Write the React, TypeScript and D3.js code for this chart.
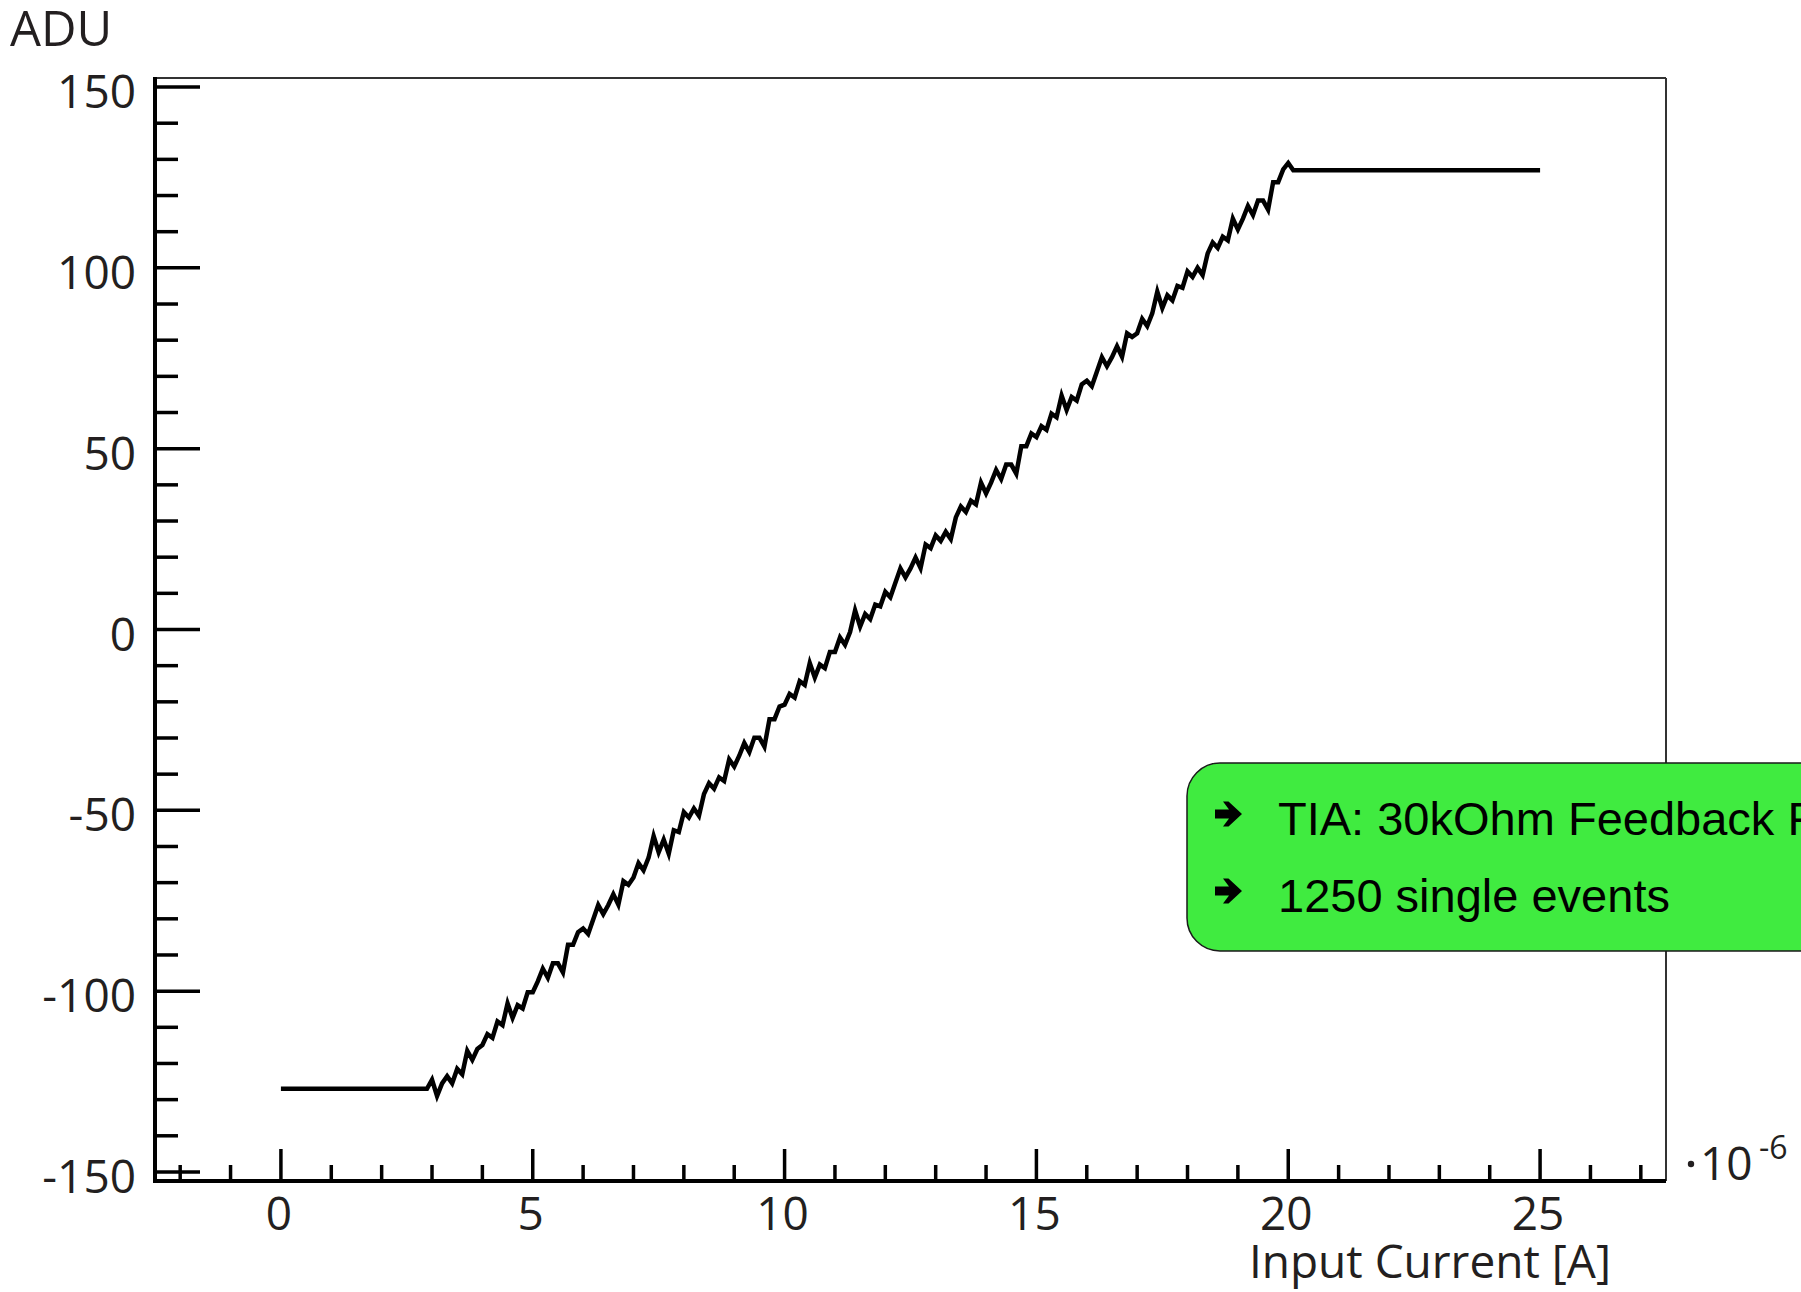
import React from "react";
import * as d3 from "d3";

// ---- data ----
const lowPlateauCurrent = [0, 2.8];
const lowPlateauAdu = [-127, -127];

const rampCurrent = [
  2.9, 3.0, 3.1, 3.2, 3.3, 3.4, 3.5, 3.6, 3.7, 3.8, 3.9,
  4.0, 4.1, 4.2, 4.3, 4.4, 4.5, 4.6, 4.7, 4.8, 4.9,
  5.0, 5.1, 5.2, 5.3, 5.4, 5.5, 5.6, 5.7, 5.8, 5.9,
  6.0, 6.1, 6.2, 6.3, 6.4, 6.5, 6.6, 6.7, 6.8, 6.9,
  7.0, 7.1, 7.2, 7.3, 7.4, 7.5, 7.6, 7.7, 7.8, 7.9,
  8.0, 8.1, 8.2, 8.3, 8.4, 8.5, 8.6, 8.7, 8.8, 8.9,
  9.0, 9.1, 9.2, 9.3, 9.4, 9.5, 9.6, 9.7, 9.8, 9.9,
  10.0, 10.1, 10.2, 10.3, 10.4, 10.5, 10.6, 10.7, 10.8, 10.9,
  11.0, 11.1, 11.2, 11.3, 11.4, 11.5, 11.6, 11.7, 11.8, 11.9,
  12.0, 12.1, 12.2, 12.3, 12.4, 12.5, 12.6, 12.7, 12.8, 12.9,
  13.0, 13.1, 13.2, 13.3, 13.4, 13.5, 13.6, 13.7, 13.8, 13.9,
  14.0, 14.1, 14.2, 14.3, 14.4, 14.5, 14.6, 14.7, 14.8, 14.9,
  15.0, 15.1, 15.2, 15.3, 15.4, 15.5, 15.6, 15.7, 15.8, 15.9,
  16.0, 16.1, 16.2, 16.3, 16.4, 16.5, 16.6, 16.7, 16.8, 16.9,
  17.0, 17.1, 17.2, 17.3, 17.4, 17.5, 17.6, 17.7, 17.8, 17.9,
  18.0, 18.1, 18.2, 18.3, 18.4, 18.5, 18.6, 18.7, 18.8, 18.9,
  19.0, 19.1, 19.2, 19.3, 19.4, 19.5, 19.6, 19.7, 19.8, 19.9,
  20.0,
];
const rampAdu = [
  -127.0, -124.5, -129.0, -125.5, -123.5, -125.5, -121.5, -123.0, -116.5, -119.0, -116.0,
  -114.9, -111.9, -112.9, -108.4, -109.4, -103.4, -107.4, -103.9, -104.8, -100.3,
  -100.3, -97.3, -93.8, -96.3, -92.3, -92.3, -94.8, -87.2, -87.2, -83.7,
  -82.7, -84.2, -80.2, -76.2, -78.7, -76.2, -73.2, -76.1, -69.6, -70.6,
  -68.6, -64.6, -66.6, -63.1, -57.1, -61.6, -58.1, -62.0, -55.5, -56.0,
  -50.5, -52.0, -49.5, -51.5, -45.5, -42.5, -44.0, -40.9, -41.9, -35.9,
  -37.9, -34.9, -31.4, -33.9, -29.9, -29.9, -32.4, -24.8, -24.8, -21.3,
  -20.8, -17.8, -18.8, -14.3, -15.3, -9.3, -13.3, -9.7, -10.7, -6.2,
  -6.2, -2.2, -4.2, -0.7, 5.3, 0.8, 4.3, 2.9, 6.9, 6.4,
  10.4, 8.9, 12.9, 16.9, 14.4, 16.9, 19.9, 17.0, 23.5, 22.5,
  26.0, 24.5, 27.0, 25.0, 31.0, 34.0, 32.5, 35.6, 34.6, 40.6,
  37.6, 40.6, 44.1, 41.6, 45.6, 45.6, 43.1, 50.7, 50.7, 54.2,
  53.2, 56.2, 55.2, 59.7, 58.7, 64.7, 60.7, 64.3, 63.3, 67.8,
  68.8, 67.3, 71.3, 75.3, 72.8, 75.3, 78.3, 75.4, 81.9, 80.9,
  81.9, 85.9, 83.9, 87.4, 93.4, 88.9, 92.4, 91.0, 95.0, 94.5,
  99.0, 97.5, 100.0, 98.0, 104.0, 107.0, 105.5, 108.6, 107.6, 113.6,
  110.6, 113.6, 117.1, 114.6, 118.6, 118.6, 116.1, 123.7, 123.7, 127.2,
  129.0,
];

const highPlateauCurrent = [20.1, 25];
const highPlateauAdu = [127, 127];

const xMajorTicks = [0, 5, 10, 15, 20, 25];
const xMinorTicks = [-2, -1, 1, 2, 3, 4, 6, 7, 8, 9, 11, 12, 13, 14, 16, 17, 18, 19, 21, 22, 23, 24, 26, 27];
const yMajorTicks = [-150, -100, -50, 0, 50, 100, 150];
const yMinorTicks = [
  -140, -130, -120, -110, -90, -80, -70, -60, -40, -30, -20, -10,
  10, 20, 30, 40, 60, 70, 80, 90, 110, 120, 130, 140,
];

const yTitle = "ADU";
const xTitle = "Input Current [A]";
const noteLines = ["TIA: 30kOhm Feedback Resistor", "1250 single events"];

export default function App() {
  const W = 1801;
  const H = 1292;
  const left = 155, right = 1666, top = 78, bottom = 1181;

  const x = d3.scaleLinear().domain([-2.5, 27.5]).range([left, right]);
  const y = d3.scaleLinear().domain([-152.5, 152.5]).range([bottom, top]);

  const pts: [number, number][] = [];
  lowPlateauCurrent.forEach((c, i) => pts.push([c, lowPlateauAdu[i]]));
  rampCurrent.forEach((c, i) => pts.push([c, rampAdu[i]]));
  highPlateauCurrent.forEach((c, i) => pts.push([c, highPlateauAdu[i]]));

  const line = d3
    .line<[number, number]>()
    .x((d) => x(d[0]))
    .y((d) => y(d[1]));

  const tickFont = "'Open Sans', 'Noto Sans', sans-serif";
  const arrowPath = "M0,-4.5 L14,-4.5 L8,-12.5 L13.5,-12.5 L27,0 L13.5,12.5 L8,12.5 L14,4.5 L0,4.5 Z";

  return (
    <svg
      width={W}
      height={H}
      viewBox={`0 0 ${W} ${H}`}
      style={{ position: "absolute", left: 0, top: 0, display: "block", background: "#fff" }}
    >
      <rect x={0} y={0} width={W} height={H} fill="#fff" />

      {/* thin frame top/right */}
      <line x1={left} x2={right} y1={top} y2={top} stroke="#333" strokeWidth={2} />
      <line x1={right} x2={right} y1={top} y2={bottom} stroke="#333" strokeWidth={2} />

      {/* y ticks */}
      {yMajorTicks.map((t) => (
        <line key={"ym" + t} x1={left} x2={left + 45} y1={y(t)} y2={y(t)} stroke="#000" strokeWidth={3.5} />
      ))}
      {yMinorTicks.map((t) => (
        <line key={"yn" + t} x1={left} x2={left + 23} y1={y(t)} y2={y(t)} stroke="#000" strokeWidth={3.5} />
      ))}
      {/* x ticks */}
      {xMajorTicks.map((t) => (
        <line key={"xm" + t} x1={x(t)} x2={x(t)} y1={bottom} y2={bottom - 32} stroke="#000" strokeWidth={3.5} />
      ))}
      {xMinorTicks.map((t) => (
        <line key={"xn" + t} x1={x(t)} x2={x(t)} y1={bottom} y2={bottom - 16} stroke="#000" strokeWidth={3.5} />
      ))}

      {/* axis lines */}
      <line x1={left} x2={left} y1={top - 1} y2={bottom + 2} stroke="#000" strokeWidth={4} />
      <line x1={left - 2} x2={right} y1={bottom} y2={bottom} stroke="#000" strokeWidth={4} />

      {/* tick labels */}
      {yMajorTicks.map((t) => (
        <text
          key={"yl" + t}
          x={136}
          y={y(t) + 21}
          textAnchor="end"
          fontFamily={tickFont}
          fontSize={46}
          fill="#231f20"
        >
          {String(t)}
        </text>
      ))}
      {xMajorTicks.map((t) => (
        <text
          key={"xl" + t}
          x={x(t) - 2}
          y={1230}
          textAnchor="middle"
          fontFamily={tickFont}
          fontSize={46}
          fill="#231f20"
        >
          {String(t)}
        </text>
      ))}

      {/* titles */}
      <text x={10} y={46} fontFamily={tickFont} fontSize={49} fill="#231f20">
        {yTitle}
      </text>
      <text x={1611} y={1278} textAnchor="end" fontFamily={tickFont} fontSize={46} fill="#231f20">
        {xTitle}
      </text>
      <circle cx={1691} cy={1164} r={3.2} fill="#231f20" />
      <text x={1700} y={1180} fontFamily={tickFont} fontSize={46} fill="#231f20">
        10
      </text>
      <text x={1759} y={1159} fontFamily={tickFont} fontSize={32} fill="#231f20">
        -6
      </text>

      {/* data line */}
      <path
        d={line(pts) || ""}
        fill="none"
        stroke="#000"
        strokeWidth={4.5}
        strokeLinejoin="miter"
        strokeMiterlimit={10}
      />

      {/* note box */}
      <rect x={1187} y={763} width={700} height={188} rx={33} ry={33} fill="#40EB40" stroke="#1a1a1a" strokeWidth={1.5} />
      {noteLines.map((t, i) => (
        <g key={"n" + i}>
          <path d={arrowPath} transform={`translate(1215, ${814 + i * 77})`} fill="#000" />
          <text
            x={1278}
            y={835 + i * 77}
            fontFamily="'Liberation Sans', Arial, sans-serif"
            fontSize={47}
            fill="#000"
          >
            {t}
          </text>
        </g>
      ))}
    </svg>
  );
}
